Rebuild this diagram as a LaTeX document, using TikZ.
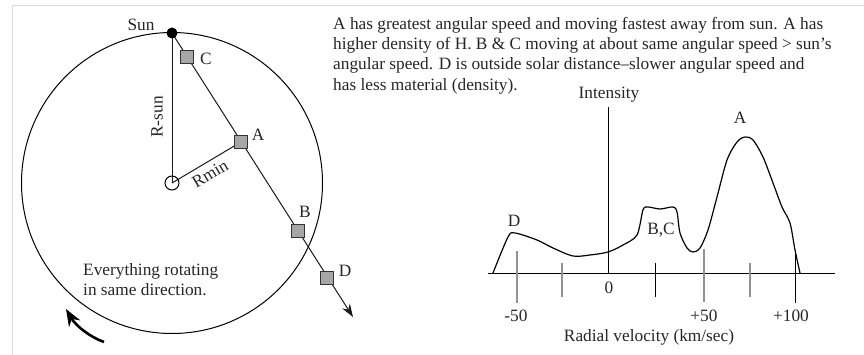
\documentclass[tikz,border=0pt]{standalone}
\usepackage{fontspec}
\setmainfont{Liberation Serif}
\usetikzlibrary{arrows.meta}
\begin{document}
\begin{tikzpicture}[x=1pt,y=-1pt,
  every node/.style={inner sep=0pt, font=\fontsize{17.3}{20.3}\selectfont, text=black!85},
  box/.style={draw=black!80, fill=gray!70, minimum size=13.5pt, line width=1.1pt},
  tickg/.style={draw=gray!85, line width=2pt},
  tickb/.style={draw=black, line width=1pt},
  thinline/.style={line width=1pt, draw=black!90},
  frame/.style={draw=black!15, line width=0.8pt},
]
\useasboundingbox (0,0) rectangle (864,355);
% frame
\coordinate (f1) at (864,5); \coordinate (f2) at (12,5); \coordinate (f3) at (12,355);
\draw[frame] (f1) -- (f2) -- (f3);

% ---- left: orbit diagram ----
\coordinate (O) at (172,183);
\coordinate (S) at (172,33);
\coordinate (E) at (353,317);
\draw[line width=1pt] (O) circle[radius=150.5];
\draw[thinline] (O) -- (S);
\coordinate (Apos) at (241,142);
\draw[thinline] (O) -- (Apos);
\draw[thinline, -{Stealth[length=13pt,width=9pt]}] (S) -- (E);
\node[circle, draw=black, line width=1pt, minimum size=14pt] (ctr) at (O) {};
\node[circle, fill=black, minimum size=11pt] (sun) at (S) {};
\node[box] (C) at (187,57) {};
\node[box] (A) at (Apos) {};
\node[box] (B) at (298,231) {};
\node[box] (D) at (327,278) {};
\node (sunlbl) at (141,25) {Sun};
\node (Clbl) at (206,59) {C};
\node (Albl) at (258,135) {A};
\node (Blbl) at (305,212) {B};
\node (Dlbl) at (345,271) {D};
\node[rotate=90] (rsun) at (157,117) {R-sun};
\node[rotate=30.7] (rmin) at (210,174) {Rmin};
\node[align=left, anchor=north west] (evr) at (83,263) {Everything rotating\\in same direction.};
\coordinate (r1) at (104,342);
\coordinate (r2) at (66,309);
\draw[line width=2.6pt, -{Stealth[length=17pt,width=13pt]}] (r1) .. controls (90,337) and (76,326) .. (r2);

% ---- right: text ----
\node[align=left, anchor=north west] (para) at (333,17) {A has greatest angular speed and moving fastest away from sun. A has\\higher density of H. B \& C moving at about same angular speed > sun’s\\angular speed. D is outside solar distance–slower angular speed and\\has less material (density).};

% ---- graph ----
\coordinate (xl) at (488,273);
\coordinate (xr) at (835,273);
\coordinate (yb) at (608,273);
\coordinate (yt) at (608,107);
\draw[line width=1pt] (xl) -- (xr);
\draw[line width=1pt] (yb) -- (yt);
\node (intens) at (609,95) {Intensity};
% ticks
\coordinate (t1a) at (517,251); \coordinate (t1b) at (517,303);
\coordinate (t2a) at (562,263); \coordinate (t2b) at (562,297);
\coordinate (t3a) at (655,263); \coordinate (t3b) at (655,297);
\coordinate (t4a) at (704,249); \coordinate (t4b) at (704,302);
\coordinate (t5a) at (750,263); \coordinate (t5b) at (750,297);
\coordinate (t6a) at (795,250); \coordinate (t6b) at (795,303);
\draw[tickg] (t1a) -- (t1b);
\draw[tickg] (t2a) -- (t2b);
\draw[tickb] (t3a) -- (t3b);
\draw[tickg] (t4a) -- (t4b);
\draw[tickg] (t5a) -- (t5b);
\draw[tickb] (t6a) -- (t6b);
\node (l0) at (609,288) {0};
\node (lm50) at (516,316) {-50};
\node (lp50) at (704,316) {+50};
\node (lp100) at (791,316) {+100};
\node (xlab) at (649,337) {Radial velocity (km/sec)};
\node (gD) at (514,221) {D};
\node (gBC) at (661,230) {B,C};
\node (gA) at (740,118) {A};
% spectrum curve
\draw[line width=1.2pt, line join=round] plot[smooth, tension=0.5] coordinates {
 (493,273) (508,237) (515,233) (537,240) (553,248) (573,256) (590,255) (608,252)
 (623,245) (637,235) (643,210) (648,207) (660,209) (673,207) (677,212) (680,233)
 (687,248) (693,252) (700,248) (708,230) (717,197) (727,160) (737,142) (745,137)
 (753,140) (763,157) (773,183) (782,207) (790,223) (795,250) (800,273)};
\end{tikzpicture}
\end{document}
